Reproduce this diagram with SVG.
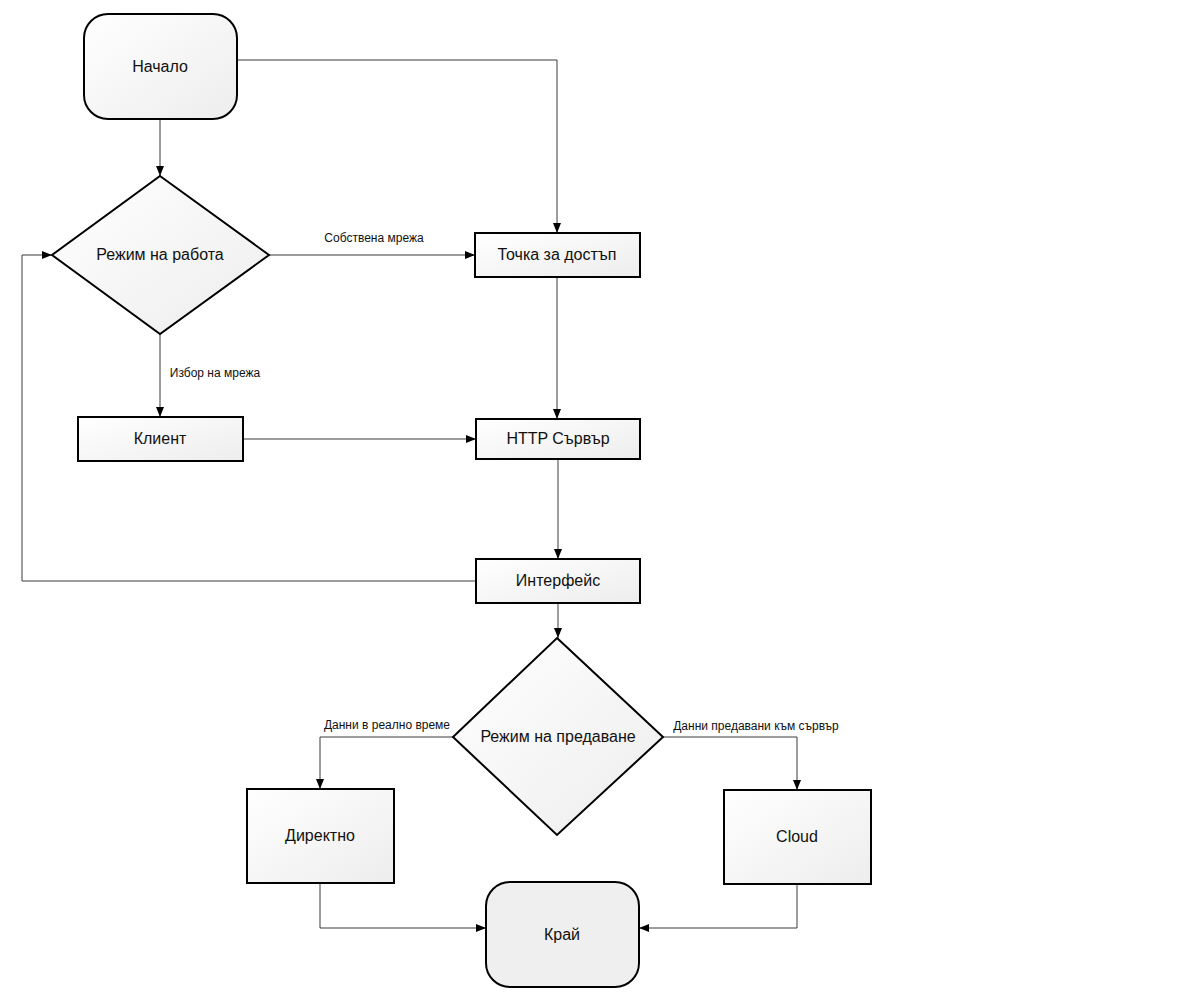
<svg xmlns="http://www.w3.org/2000/svg" width="1200" height="1000" viewBox="0 0 1200 1000">
<defs>
<linearGradient id="g" x1="0" y1="0" x2="1" y2="1">
<stop offset="0" stop-color="#ffffff"/>
<stop offset="1" stop-color="#ededed"/>
</linearGradient>
<marker id="a" viewBox="0 0 10 8" refX="10" refY="4" markerWidth="10" markerHeight="8" markerUnits="userSpaceOnUse" orient="auto">
<path d="M0,0 L10,4 L0,8 Z" fill="#000"/>
</marker>
<style>
.n{fill:url(#g);stroke:#000;stroke-width:2}
.e{fill:#efefef;stroke:#000;stroke-width:2}
.t{font-family:"Liberation Sans",Arial,sans-serif;font-size:16px;fill:#111;text-anchor:middle;dominant-baseline:central}
.l{font-family:"Liberation Sans",Arial,sans-serif;font-size:12px;fill:#111;text-anchor:middle}
.c{fill:none;stroke:#3a3a3a;stroke-width:1;marker-end:url(#a)}
</style>
</defs>
<rect width="1200" height="1000" fill="#fff"/>
<g id="connectors">
<path class="c" d="M237,60 H557 V233"/>
<path class="c" d="M160,119 V176"/>
<path class="c" d="M269,255 H475"/>
<path class="c" d="M160,334 V417"/>
<path class="c" d="M243,439 H476"/>
<path class="c" d="M557,277 V419"/>
<path class="c" d="M558,459 V559"/>
<path class="c" d="M476,581 H22 V255 H52"/>
<path class="c" d="M558,603 V638"/>
<path class="c" d="M453,737 H320 V789"/>
<path class="c" d="M663,737 H797 V790"/>
<path class="c" d="M320,883 V928 H486"/>
<path class="c" d="M797,884 V928 H639"/>
<text class="l" x="374" y="242">Собствена мрежа</text>
<text class="l" x="215" y="377">Избор на мрежа</text>
<text class="l" x="387" y="729">Данни в реално време</text>
<text class="l" x="756" y="730">Данни предавани към сървър</text>
</g>
<g id="start"><rect class="n" x="84" y="14" width="153" height="105" rx="24"/><text class="t" x="160" y="66">Начало</text></g>
<g id="mode"><polygon class="n" points="160,176 269,255 160,334 52,255"/><text class="t" x="160" y="254">Режим на работа</text></g>
<g id="ap"><rect class="n" x="475" y="233" width="165" height="44"/><text class="t" x="557" y="254">Точка за достъп</text></g>
<g id="client"><rect class="n" x="78" y="417" width="165" height="44"/><text class="t" x="160" y="438">Клиент</text></g>
<g id="http"><rect class="n" x="476" y="419" width="164" height="40"/><text class="t" x="558" y="438">HTTP Сървър</text></g>
<g id="ui"><rect class="n" x="476" y="559" width="164" height="44"/><text class="t" x="558" y="580">Интерфейс</text></g>
<g id="tx"><polygon class="n" points="557,638 663,737 557,835 453,737"/><text class="t" x="558" y="736">Режим на предаване</text></g>
<g id="direct"><rect class="n" x="247" y="789" width="147" height="94"/><text class="t" x="320" y="835">Директно</text></g>
<g id="cloud"><rect class="n" x="724" y="790" width="147" height="94"/><text class="t" x="797" y="836">Cloud</text></g>
<g id="end"><rect class="e" x="486" y="882" width="153" height="105" rx="24"/><text class="t" x="562" y="934">Край</text></g>
</svg>
